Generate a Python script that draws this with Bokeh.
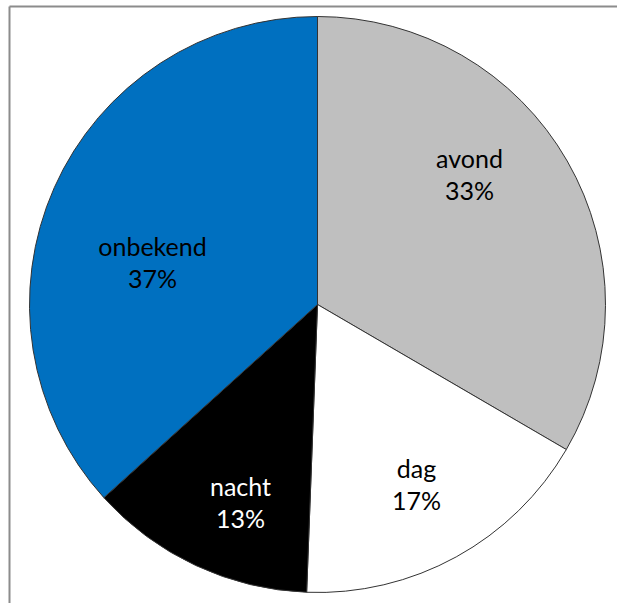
import numpy as np
from bokeh.plotting import figure
from bokeh.models import ColumnDataSource, Range1d
from bokeh.core.properties import value
from bokeh.embed import file_html
from bokeh.resources import INLINE

# data
categories = ["avond", "dag", "nacht", "onbekend"]
shares = [33.4, 17.2, 12.7, 36.7]
labels_pct = ["33%", "17%", "13%", "37%"]
colors = ["#BFBFBF", "#FFFFFF", "#000000", "#0070C0"]
text_colors = ["#000000", "#000000", "#FFFFFF", "#000000"]

# layout (page pixel coordinates, y negated)
W, H = 617, 603
cx, cy, R = 317, -304, 288
label_pos = [(469, -173), (416, -483), (240, -501), (152, -261)]
line_gap = 16

frac = np.array(shares) / sum(shares)
cum = np.concatenate([[0], np.cumsum(frac)])
start = np.pi / 2 - cum[:-1] * 2 * np.pi
end = np.pi / 2 - cum[1:] * 2 * np.pi

src = ColumnDataSource(dict(cat=categories, start=start, end=end, color=colors))

p = figure(width=W, height=H, output_backend="svg", toolbar_location=None,
           x_range=Range1d(0, W), y_range=Range1d(-H, 0),
           min_border=0, outline_line_color=None)
p.axis.visible = False
p.grid.visible = False
p.background_fill_color = "white"
p.border_fill_color = "white"

# chart border (top/left visible)
p.segment(x0=[9, 9], y0=[-6, -6], x1=[9, W + 5], y1=[-(H + 5), -6],
          line_color="#8C8C8C", line_width=2)

p.wedge(x=cx, y=cy, radius=R, start_angle="start", end_angle="end",
        direction="clock", fill_color="color", line_color="#333333",
        line_width=1, source=src)

lsrc = ColumnDataSource(dict(
    x=[lp[0] for lp in label_pos],
    y1=[lp[1] + line_gap for lp in label_pos],
    y2=[lp[1] - line_gap for lp in label_pos],
    name=categories, pct=labels_pct, tc=text_colors))
for ycol, tcol in (("y1", "name"), ("y2", "pct")):
    p.text(x="x", y=ycol, text=tcol, text_color="tc", source=lsrc,
           text_font=value("Lato"), text_font_size="25px",
           text_align="center", text_baseline="middle")

open("out.html", "w").write(file_html(p, INLINE))
